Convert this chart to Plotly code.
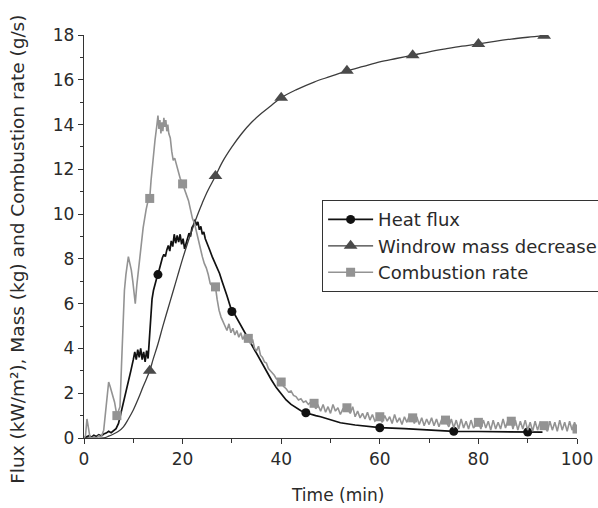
import plotly.graph_objects as go

# Heat flux (kW/m2) vs time (min)
heat_t = [0, 0.5, 1, 1.5, 2, 2.5, 3, 3.5, 4, 4.5, 5, 5.5, 6, 6.5, 7, 7.5, 8, 8.5, 9, 9.5,
          10, 10.3, 10.6, 10.9, 11.2, 11.5, 11.8, 12.1, 12.4, 12.7, 13.0, 13.2, 13.5, 13.8,
          14.1, 14.4, 14.7, 15, 15.3, 15.6, 15.9, 16.2, 16.5, 16.8, 17.1, 17.4, 17.7, 18.0,
          18.3, 18.6, 18.9, 19.2, 19.5, 19.8, 20.1, 20.4, 20.7, 21.0, 21.3, 21.6, 21.9, 22.2,
          22.5, 22.8, 23.1, 23.4, 23.7, 24.0, 24.3, 24.6, 25.0, 25.5, 26.0, 26.5, 27.0, 27.5,
          28.0, 28.5, 29.0, 29.5, 30, 30.5, 31.0, 31.5, 32.0, 33.0, 34.0, 35.0, 36.0, 37.0,
          38.0, 39.0, 40.0, 41.0, 42.0, 43.0, 44.0, 45, 46.0, 47.0, 48.0, 50.0, 52.0, 55.0,
          58.0, 60, 65.0, 70.0, 75, 80.0, 85.0, 90, 93.0]
heat_v = [0.0, 0.05, 0.1, 0.04, 0.12, 0.07, 0.15, 0.09, 0.18, 0.22, 0.3, 0.24, 0.32, 0.42,
          0.65, 1.1, 1.6, 2.1, 2.5, 3.0, 3.5, 3.85, 3.5, 3.95, 3.6, 4.0, 3.5, 3.85, 3.4, 3.9,
          3.55, 4.3, 5.4, 6.2, 6.6, 6.9, 7.1, 7.3, 7.6, 7.8, 8.05, 8.2, 8.1, 8.4, 8.6, 8.35,
          8.8, 8.55, 9.1, 8.7, 9.05, 8.75, 9.1, 8.65, 8.9, 8.45, 8.7, 8.9, 9.15, 9.0, 9.4,
          9.5, 9.75, 9.5, 9.65, 9.3, 9.45, 9.1, 9.2, 8.9, 8.7, 8.4, 8.1, 7.85, 7.6, 7.35,
          7.0, 6.7, 6.35, 6.0, 5.65, 5.55, 5.35, 5.2, 4.95, 4.55, 4.15, 3.75, 3.35, 2.95,
          2.6, 2.25, 1.95, 1.7, 1.5, 1.35, 1.22, 1.13, 1.05, 1.0, 0.95, 0.8, 0.68, 0.58,
          0.5, 0.46, 0.42, 0.37, 0.3, 0.29, 0.28, 0.27, 0.26]
heat_marks = [15, 30, 45, 60, 75, 90]

# Windrow mass decrease (kg) vs time (min)
mass_t = [0, 4, 5, 6, 7, 8, 9, 10, 11, 12, 13.33, 14, 15, 16, 17, 18, 19, 20, 21, 22, 23,
          24, 25, 26.67, 28, 30, 32, 34, 36, 38, 40, 43, 46.67, 50, 53.33, 56.67, 60, 63.33,
          66.67, 70, 73.33, 76.67, 80, 83.33, 86.67, 90, 93.33]
mass_v = [0.0, 0.0, 0.08, 0.18, 0.3, 0.5, 0.85, 1.25, 1.75, 2.3, 3.0, 3.5, 4.2, 5.0, 5.75,
          6.5, 7.25, 8.0, 8.7, 9.35, 9.95, 10.5, 11.0, 11.7, 12.3, 13.0, 13.6, 14.1, 14.5,
          14.85, 15.2, 15.55, 15.9, 16.15, 16.4, 16.6, 16.8, 16.95, 17.1, 17.25, 17.38,
          17.5, 17.6, 17.72, 17.82, 17.9, 17.97]
mass_marks = [13.33, 26.67, 40, 53.33, 66.67, 80, 93.33]

# Combustion rate (g/s) vs time (min)
comb_t = [0, 0.3, 0.6, 0.9, 1.2, 1.6, 2.0, 2.5, 3.0, 3.5, 4.0, 4.3, 4.6, 5.0, 5.3, 5.6, 5.9,
          6.2, 6.67, 7.0, 7.3, 7.6, 7.9, 8.2, 8.5, 8.8, 9.0, 9.3, 9.6, 9.9, 10.2, 10.4, 10.7,
          11.0, 11.3, 11.6, 12.0, 12.3, 12.6, 13.0, 13.33, 13.6, 14.0, 14.4, 14.8, 15.0,
          15.2, 15.4, 15.6, 15.8, 16.0, 16.2, 16.4, 16.6, 16.8, 17.0, 17.2, 17.5, 17.8,
          18.1, 18.4, 18.8, 19.1, 19.5, 20.0, 20.4, 20.8, 21.2, 21.6, 22.0, 22.4, 22.8,
          23.2, 23.6, 24.0, 24.4, 24.8, 25.2, 25.6, 26.0, 26.67, 27.0, 27.4, 27.8, 28.2,
          28.6, 29.0, 29.4, 29.8, 30.2, 30.6, 31.0, 31.4, 31.8, 32.2, 32.6, 33.33, 33.8,
          34.2, 34.6, 35.0, 35.4, 35.8, 36.2, 36.6, 37.0, 37.4, 37.8, 38.2, 38.6, 39.0,
          40.0, 40.5, 41.0, 41.5, 42.0, 42.5, 43.0, 43.5, 44.0, 44.5, 45.0, 45.5, 46.0,
          46.67, 47.0, 47.5, 48.0, 48.5, 49.0, 49.5, 50.0, 50.5, 51.0, 51.5, 52.0, 52.5,
          53.33, 54.0, 54.5, 55.0, 55.5, 56.0, 56.5, 57.0, 57.5, 58.0, 58.5, 59.0, 60.0,
          60.5, 61.0, 61.5, 62.0, 62.5, 63.0, 63.5, 64.0, 64.5, 65.0, 65.5, 66.0, 66.67,
          67.0, 67.5, 68.0, 68.5, 69.0, 69.5, 70.0, 70.5, 71.0, 71.5, 72.0, 72.5, 73.33,
          74.0, 74.5, 75.0, 75.5, 76.0, 76.5, 77.0, 77.5, 78.0, 78.5, 79.0, 80.0, 80.5,
          81.0, 81.5, 82.0, 82.5, 83.0, 83.5, 84.0, 84.5, 85.0, 85.5, 86.0, 86.67, 87.0,
          87.5, 88.0, 88.5, 89.0, 89.5, 90.0, 90.5, 91.0, 91.5, 92.0, 92.5, 93.33, 94.0,
          94.5, 95.0, 95.5, 96.0, 96.5, 97.0, 97.5, 98.0, 98.5, 99.0, 99.5, 100.0]
comb_v = [0.0, 0.1, 0.85, 0.5, 0.05, 0.0, 0.05, 0.0, 0.1, 0.05, 0.35, 1.0, 1.8, 2.5, 2.3,
          2.1, 1.8, 1.6, 1.0, 1.2, 1.4, 3.2, 5.0, 6.6, 7.3, 7.9, 8.1, 7.8, 7.5, 7.0, 6.3,
          6.0, 6.8, 7.5, 8.0, 8.6, 9.4, 9.9, 10.2, 10.6, 10.7, 11.5, 12.5, 13.3, 14.0,
          14.4, 13.8, 14.2, 13.6, 14.1, 13.7, 14.3, 13.9, 14.2, 13.7, 14.0, 13.6, 13.4,
          12.8, 12.4, 12.5, 12.2, 11.9, 11.6, 11.35, 11.1, 10.9, 10.6, 10.2, 9.8, 9.6, 9.2,
          8.8, 8.4, 8.1, 7.8, 7.6, 7.3, 6.9, 6.8, 6.75, 6.2, 5.7, 5.4, 5.2, 5.0, 4.8, 5.1,
          4.7, 4.9, 4.6, 4.8, 4.5, 4.7, 4.4, 4.6, 4.45, 4.2, 4.4, 4.0, 3.9, 4.1, 3.7, 3.6,
          3.4, 3.35, 3.1, 3.0, 2.9, 2.8, 2.65, 2.5, 2.3, 2.2, 2.05, 2.1, 1.9, 1.85, 1.7,
          1.75, 1.6, 1.65, 1.5, 1.6, 1.55, 1.3, 1.45, 1.2, 1.5, 1.15, 1.4, 1.1, 1.5, 1.2,
          1.35, 1.05, 1.3, 1.35, 1.1, 1.4, 0.95, 1.2, 0.9, 1.1, 0.85, 1.15, 0.8, 1.05,
          0.75, 0.95, 0.7, 1.0, 0.75, 0.95, 0.65, 1.05, 0.7, 0.9, 0.6, 0.95, 0.7, 1.0, 0.9,
          0.65, 0.95, 0.6, 0.9, 0.55, 0.85, 0.6, 0.9, 0.55, 0.85, 0.5, 0.8, 0.8, 0.5, 0.85,
          0.45, 0.8, 0.4, 0.85, 0.45, 0.75, 0.4, 0.8, 0.45, 0.7, 0.4, 0.8, 0.45, 0.75, 0.35,
          0.8, 0.4, 0.7, 0.4, 0.85, 0.45, 0.8, 0.75, 0.4, 0.8, 0.35, 0.75, 0.4, 0.8, 0.35,
          0.7, 0.3, 0.75, 0.35, 0.7, 0.55, 0.3, 0.75, 0.35, 0.7, 0.3, 0.8, 0.35, 0.7, 0.3,
          0.75, 0.35, 0.7, 0.4]
comb_marks = [6.67, 13.33, 20.0, 26.67, 33.33, 40.0, 46.67, 53.33, 60.0, 66.67, 73.33,
              80.0, 86.67, 93.33, 100.0]

X_TITLE = "Time (min)"
Y_TITLE = "Flux (kW/m²), Mass (kg) and Combustion rate (g/s)"


def at(ts, vs, marks):
    lookup = dict(zip(ts, vs))
    return [lookup[m] for m in marks]


FONT = "DejaVu Sans"
TEXT = "#2a2a2a"

series = [
    dict(name="Heat flux", t=heat_t, v=heat_v, marks=heat_marks, color="#111111",
         mcolor="#111111", width=1.7, symbol="circle", size=9, shape="linear"),
    dict(name="Windrow mass decrease", t=mass_t, v=mass_v, marks=mass_marks,
         color="#3c3c3c", mcolor="#4a4a4a", width=1.3, symbol="triangle-up", size=12,
         shape="spline"),
    dict(name="Combustion rate", t=comb_t, v=comb_v, marks=comb_marks, color="#939393",
         mcolor="#939393", width=1.6, symbol="square", size=9, shape="linear"),
]

fig = go.Figure()
for s in series:
    fig.add_trace(go.Scatter(
        x=s["t"], y=s["v"], mode="lines", showlegend=False, hoverinfo="skip",
        line=dict(color=s["color"], width=s["width"], shape=s["shape"]),
    ))
    fig.add_trace(go.Scatter(
        x=s["marks"], y=at(s["t"], s["v"], s["marks"]), mode="markers",
        showlegend=False,
        marker=dict(symbol=s["symbol"], size=s["size"], color=s["mcolor"],
                    line=dict(width=0)),
    ))

# legend entries (line with symbol)
for s in series:
    fig.add_trace(go.Scatter(
        x=[None], y=[None], mode="lines+markers", name=s["name"],
        line=dict(color=s["color"], width=s["width"]),
        marker=dict(symbol=s["symbol"], size=s["size"], color=s["mcolor"],
                    line=dict(width=0)),
    ))

axis_common = dict(
    showline=True, linecolor="#333333", linewidth=1.4, mirror=False,
    showgrid=False, zeroline=False,
    ticks="outside", ticklen=5, tickwidth=1.2, tickcolor="#333333",
    tickfont=dict(family=FONT, size=17, color=TEXT),
)

fig.update_layout(
    width=598, height=508,
    margin=dict(l=84, r=21, t=35, b=70, autoexpand=False),
    paper_bgcolor="white", plot_bgcolor="white",
    font=dict(family=FONT, color=TEXT),
    xaxis=dict(
        range=[0, 100], dtick=20, tick0=0,
        minor=dict(dtick=10, ticks="outside", ticklen=4, tickcolor="#333333",
                   tickwidth=1.2),
        **axis_common,
    ),
    yaxis=dict(
        range=[0, 18], dtick=2, tick0=0,
        minor=dict(dtick=1, ticks="outside", ticklen=3, tickcolor="#333333",
                   tickwidth=1.2),
        **axis_common,
    ),
    legend=dict(
        x=0.483, y=0.59, xanchor="left", yanchor="top",
        bgcolor="white", bordercolor="#333333", borderwidth=1,
        font=dict(family=FONT, size=18, color=TEXT),
        itemwidth=45, tracegroupgap=0,
    ),
    annotations=[
        dict(text=X_TITLE, xref="paper", yref="paper", x=0.515, y=-0.142,
             xanchor="center", yanchor="middle", showarrow=False,
             font=dict(family=FONT, size=17, color=TEXT)),
        dict(text=Y_TITLE, xref="paper", yref="paper", x=-0.135, y=0.468,
             xanchor="center", yanchor="middle", textangle=-90, showarrow=False,
             font=dict(family=FONT, size=18.5, color=TEXT)),
    ],
)

fig.write_html("out.html")
